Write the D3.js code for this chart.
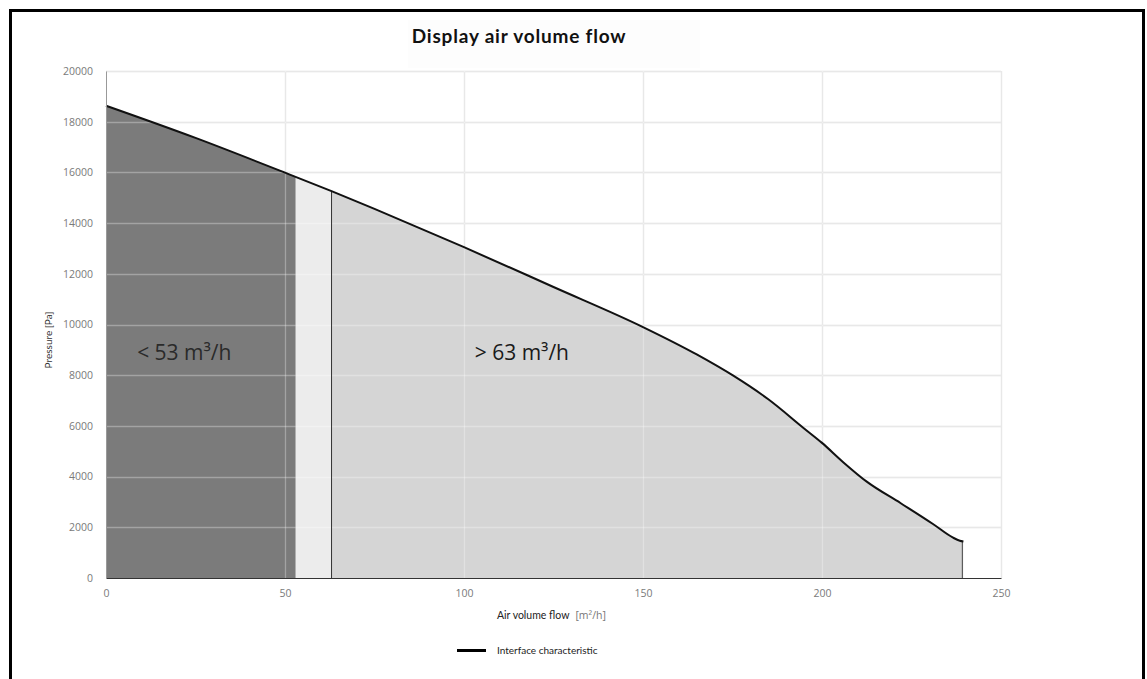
<!DOCTYPE html>
<html>
<head>
<meta charset="utf-8">
<script src="https://cdn.jsdelivr.net/npm/d3@7"></script>
<style>
  body { margin: 0; background: #fff; }
  svg { display: block; }
</style>
</head>
<body>
<svg id="chart" width="1147" height="679"></svg>
<script>
// values
var flowValues = [0, 25, 50, 63, 75, 100, 125, 150, 165, 175, 185, 195, 200, 206, 212.5, 222, 231, 236.5, 238.5, 239.5];
var pressureValues = [18630, 17360, 15990, 15260, 14560, 13050, 11480, 9900, 8820, 8000, 7050, 5900, 5330, 4560, 3800, 2950, 2130, 1600, 1470, 1440];
var xTicks = [0, 50, 100, 150, 200, 250];
var yTicks = [0, 2000, 4000, 6000, 8000, 10000, 12000, 14000, 16000, 18000, 20000];
var zoneBreaks = [0, 53, 63, 239.5];
var zoneColors = ['#7b7b7b', '#ececec', '#d5d5d5'];
var zoneLabels = ['< 53 m³/h', '> 63 m³/h'];

var svg = d3.select('#chart');
var margin = {left: 106, right: 146, top: 71, bottom: 101};
var width = 1147 - margin.left - margin.right;
var height = 679 - margin.top - margin.bottom;

var data = flowValues.map(function(d, i) { return {x: d, y: pressureValues[i]}; });

var x = d3.scaleLinear().domain([0, 250]).range([0, width]);
var y = d3.scaleLinear().domain([0, 20000]).range([height, 0]);

// frame round the whole figure
svg.append('rect')
  .attr('x', 10.5).attr('y', 10.5)
  .attr('width', 1133).attr('height', 690)
  .attr('fill', 'none').attr('stroke', '#000').attr('stroke-width', 3);

// faint box behind title
svg.append('rect')
  .attr('x', 408).attr('y', 20).attr('width', 292).attr('height', 48)
  .attr('fill', '#fdfdfd');

svg.append('text')
  .attr('x', 519).attr('y', 43)
  .attr('text-anchor', 'middle')
  .style('font-family', 'Lato, "DejaVu Sans", sans-serif')
  .style('font-weight', 'bold')
  .style('font-size', '19px')
  .style('letter-spacing', '0.8px')
  .attr('fill', '#111')
  .text('Display air volume flow');

var g = svg.append('g').attr('transform', 'translate(' + margin.left + ',' + margin.top + ')');

function drawGrid(layer, stroke, opacity) {
  layer.selectAll('.hg').data(yTicks.slice(1)).enter().append('line')
    .attr('x1', 0).attr('x2', width)
    .attr('y1', function(d) { return Math.round(y(d)) + 0.5; })
    .attr('y2', function(d) { return Math.round(y(d)) + 0.5; })
    .attr('stroke', stroke).attr('stroke-opacity', opacity).attr('stroke-width', 1.3);
  layer.selectAll('.vg').data(xTicks.slice(1)).enter().append('line')
    .attr('y1', 0).attr('y2', height)
    .attr('x1', function(d) { return Math.round(x(d)) + 0.5; })
    .attr('x2', function(d) { return Math.round(x(d)) + 0.5; })
    .attr('stroke', stroke).attr('stroke-opacity', opacity).attr('stroke-width', 1.3);
}
drawGrid(g.append('g'), '#dedede', 1);

var area = d3.area()
  .x(function(d) { return x(d.x); })
  .y0(height)
  .y1(function(d) { return y(d.y); })
  .curve(d3.curveMonotoneX);

var defs = svg.append('defs');
zoneColors.forEach(function(c, i) {
  defs.append('clipPath').attr('id', 'zone' + i)
    .append('rect')
    .attr('x', x(zoneBreaks[i])).attr('y', 0)
    .attr('width', x(zoneBreaks[i + 1]) - x(zoneBreaks[i]))
    .attr('height', height);
  g.append('path')
    .datum(data)
    .attr('clip-path', 'url(#zone' + i + ')')
    .attr('fill', c)
    .attr('d', area);
});

// faint grid on top so it shows through the fills
drawGrid(g.append('g'), '#ffffff', 0.3);

// boundary line at 63
var pAt = d3.scaleLinear().domain(flowValues).range(pressureValues);
g.append('line')
  .attr('x1', x(63)).attr('x2', x(63))
  .attr('y1', height).attr('y2', y(pAt(63)))
  .attr('stroke', '#333').attr('stroke-width', 1);
// end of curve down to axis
g.append('line')
  .attr('x1', x(239.2)).attr('x2', x(239.2))
  .attr('y1', height).attr('y2', y(pAt(239.2)))
  .attr('stroke', '#444').attr('stroke-width', 1);

var line = d3.line()
  .x(function(d) { return x(d.x); })
  .y(function(d) { return y(d.y); })
  .curve(d3.curveMonotoneX);

g.append('path')
  .datum(data)
  .attr('fill', 'none')
  .attr('stroke', '#111')
  .attr('stroke-width', 2)
  .attr('d', line);

// zone labels
g.append('text')
  .attr('x', x(8.7)).attr('y', y(8000) - 15)
  .style('font-family', '"Open Sans", "Noto Sans", sans-serif')
  .style('font-size', '21px')
  .attr('fill', '#2a2a2a')
  .text(zoneLabels[0]);
g.append('text')
  .attr('x', x(103)).attr('y', y(8000) - 15)
  .style('font-family', '"Open Sans", "Noto Sans", sans-serif')
  .style('font-size', '21px')
  .attr('fill', '#1a1a1a')
  .text(zoneLabels[1]);

// axes
var xAxis = g.append('g')
  .attr('transform', 'translate(0,' + height + ')')
  .call(d3.axisBottom(x).tickValues(xTicks).tickSize(0).tickPadding(12));
xAxis.select('.domain').attr('stroke', '#333').attr('stroke-width', 1.2);

var yAxis = g.append('g')
  .call(d3.axisLeft(y).tickValues(yTicks).tickSize(0).tickPadding(13).tickFormat(d3.format('d')));
yAxis.select('.domain').attr('stroke', '#999');

g.selectAll('.tick text')
  .style('font-family', '"Open Sans", "Noto Sans", sans-serif')
  .style('font-size', '10.5px')
  .attr('fill', '#7a7a7a');

// axis titles
svg.append('text')
  .attr('transform', 'translate(52,340) rotate(-90)')
  .attr('text-anchor', 'middle')
  .style('font-family', 'Lato, "DejaVu Sans", sans-serif')
  .style('font-size', '10px')
  .attr('fill', '#333')
  .text('Pressure [Pa]');

var xt = svg.append('text')
  .attr('x', 497).attr('y', 619)
  .style('font-family', 'Lato, "DejaVu Sans", sans-serif')
  .style('font-size', '10.5px')
  .attr('fill', '#222');
xt.append('tspan').text('Air volume flow');
xt.append('tspan')
  .attr('dx', 6)
  .style('font-family', '"Open Sans", "Noto Sans", sans-serif')
  .attr('fill', '#777')
  .text('[m²/h]');

// legend
svg.append('line')
  .attr('x1', 457).attr('x2', 486)
  .attr('y1', 650.5).attr('y2', 650.5)
  .attr('stroke', '#000').attr('stroke-width', 3);
svg.append('text')
  .attr('x', 497).attr('y', 654)
  .style('font-family', 'Lato, "DejaVu Sans", sans-serif')
  .style('font-size', '10px')
  .attr('fill', '#222')
  .text('Interface characteristic');
</script>
</body>
</html>
